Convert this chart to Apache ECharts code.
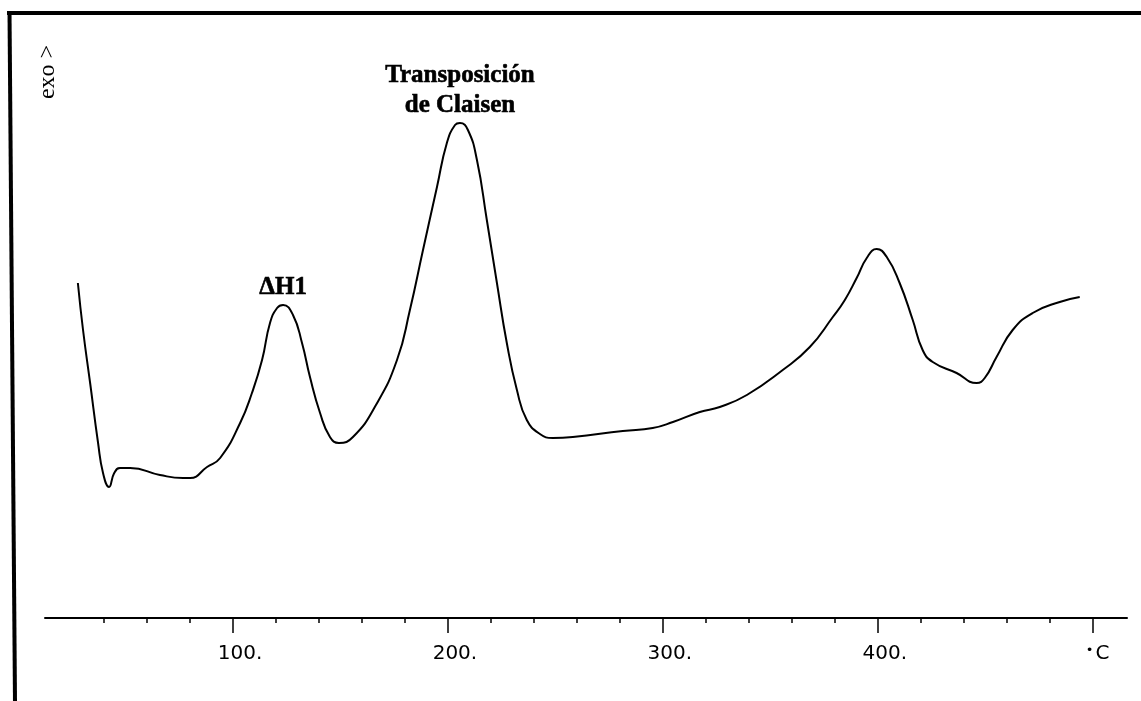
<!DOCTYPE html>
<html>
<head>
<meta charset="utf-8">
<script src="https://cdn.jsdelivr.net/npm/echarts@6/dist/echarts.min.js"></script>
<style>
html,body{margin:0;padding:0;background:#fff;}
#chart{width:1141px;height:701px;}
</style>
</head>
<body>
<div id="chart"></div>
<script>
// Temperature (°C)
var temps = [27.8, 30.2, 33.5, 37.2, 39.5, 42.3, 44.7, 47.4, 52.1, 66.0, 76.7, 80.0, 87.9, 94.0,
  103.3, 108.8, 113.5, 117.2, 120.5, 123.3, 127.9, 132.1, 135.8, 140.5, 145.1, 149.3, 155.8,
  166.5, 176.3, 182.3, 188.4, 194.9, 199.5, 203.3, 205.6, 209.3, 213.5, 218.1, 222.8, 227.4,
  232.1, 236.7, 242.8, 248.8, 258.1, 281.4, 295.3, 304.7, 317.2, 326.5, 339.1, 355.8, 368.4,
  379.1, 384.7, 390.2, 394.9, 399.5, 404.2, 410.2, 416.3, 420.9, 425.6, 436.7, 446.0, 449.8,
  455.3, 462.8, 472.1, 484.7, 494.0];
// Heat flow signal (arbitrary units, exo up)
var signal = [335, 288, 235, 175, 145, 131, 145, 150, 150, 143, 140, 140, 151, 160,
  195, 225, 258, 295, 310, 313, 303, 275, 241, 205, 181, 175, 181,
  213, 258, 308, 368, 431, 475, 493, 495, 488, 458, 398, 335, 275,
  228, 198, 184, 180, 181, 187, 190, 196, 206, 211, 223, 248, 271,
  301, 318, 340, 360, 369, 361, 335, 298, 268, 256, 245, 235, 240,
  261, 288, 305, 316, 321];
// Annotations at peaks
var annoTemps = [123.3, 205.6];
var annoSignal = [313, 495];
var annoTexts = ['ΔH1', 'Transposición\nde Claisen'];
// Axis ticks
var minorTicks = [40, 60, 80, 100, 120, 140, 160, 180, 200, 220, 240, 260, 280, 300, 320, 340, 360, 380, 400, 420, 440, 460, 480, 500];
var majorTicks = [100, 200, 300, 400, 500];
var majorLabels = ['100.', '200.', '300.', '400.', 'C'];

var curve = temps.map(function (t, i) { return [t, signal[i]]; });
var anno = annoTemps.map(function (t, i) { return [t, annoSignal[i], annoTexts[i]]; });

var chart = echarts.init(document.getElementById('chart'), null, {renderer: 'canvas'});
var xBase = {
  type: 'value', min: 12.5, max: 516, gridIndex: 0, position: 'bottom',
  splitLine: {show: false}
};
chart.setOption({
  animation: false,
  backgroundColor: '#fff',
  grid: {left: 45, width: 1082, top: 14, height: 604},
  xAxis: [
    Object.assign({}, xBase, {
      axisLine: {show: true, onZero: false, lineStyle: {color: '#000', width: 2}},
      axisTick: {show: true, customValues: minorTicks, length: 5, lineStyle: {color: '#000', width: 1.5}},
      axisLabel: {show: false}
    }),
    Object.assign({}, xBase, {
      axisLine: {show: false, onZero: false},
      axisTick: {show: true, customValues: majorTicks, length: 15, lineStyle: {color: '#000', width: 1.5}},
      axisLabel: {
        show: true, customValues: majorTicks, margin: 26,
        formatter: function (v) {
          var i = majorTicks.indexOf(v);
          return i === majorTicks.length - 1 ? '{d|•}{c|' + majorLabels[i] + '}' : '{n|' + majorLabels[i] + '}';
        },
        rich: {
          n: {fontFamily: 'DejaVu Sans', fontSize: 20, color: '#000', padding: [0, 0, 0, 14]},
          d: {fontFamily: 'DejaVu Sans', fontSize: 13, color: '#000', verticalAlign: 'top', padding: [0, 2, 0, 10]},
          c: {fontFamily: 'DejaVu Sans', fontSize: 20, color: '#000'}
        }
      }
    })
  ],
  yAxis: {type: 'value', min: 0, max: 604, show: false},
  series: [
    {
      type: 'line', xAxisIndex: 0, data: curve, smooth: 0.5, symbol: 'none',
      lineStyle: {color: '#000', width: 2}
    },
    {
      type: 'scatter', xAxisIndex: 0, data: anno, symbolSize: 0,
      itemStyle: {opacity: 1, color: '#000'},
      label: {
        show: true, position: 'top', distance: 2, opacity: 1,
        formatter: function (p) { return p.data[2]; },
        fontFamily: 'Liberation Serif', fontWeight: 'bold', fontSize: 25, lineHeight: 30,
        color: '#000', textBorderColor: '#000', textBorderWidth: 0.6, align: 'center'
      }
    }
  ],
  graphic: [
    {type: 'line', shape: {x1: 7, y1: 13, x2: 1141, y2: 13}, style: {stroke: '#000', lineWidth: 4}},
    {type: 'line', shape: {x1: 9.5, y1: 11, x2: 15, y2: 701}, style: {stroke: '#000', lineWidth: 4}},
    {type: 'text', x: 48, y: 72, rotation: Math.PI / 2,
     style: {text: 'exo >', fontFamily: 'Liberation Serif', fontSize: 24, fill: '#000', align: 'center', verticalAlign: 'middle'}}
  ]
});
</script>
</body>
</html>
